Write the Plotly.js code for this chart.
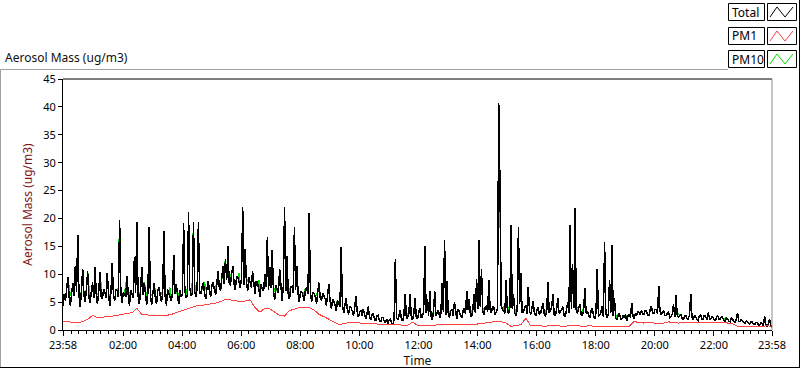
<!DOCTYPE html>
<html>
<head>
<meta charset="utf-8">
<script src="https://cdn.plot.ly/plotly-3.0.1.min.js"></script>
<style>
  html, body { margin: 0; padding: 0; background: #ffffff; }
  #chart { width: 800px; height: 369px; }
  #chart .scatterlayer path.js-line { shape-rendering: crispEdges; }
</style>
</head>
<body>
<div id="chart"></div>
<script>
// ---- Data ----
// Sample grid: first sample at 23:58 of the previous day (hours, -2/60)
const sampleStartHour = -2 / 60;
const totalStepMin = 2.5;  // Total and PM10 sampled every 2.5 minutes
const pm1StepMin = 10;     // PM1 sampled every 10 minutes

const totalMass = [
  4.3,6.4, 5.2,7.1, 9.5,5.8, 4.4,6.6, 8.5,6.1, 11.5,6.8, 17.1,6.2, 4.2,7.0, 11.0,6.3, 5.0,7.2, 10.5,6.0, 4.8,6.9,
  8.5,5.8, 11.2,6.6, 4.6,6.8, 10.4,6.0, 5.5,7.4, 6.8,5.7, 10.3,6.4, 4.4,7.0, 12.0,6.2, 5.2,7.3, 7.0,5.9, 19.8,6.8,
  4.8,6.7, 6.5,6.0, 9.7,6.4, 4.3,7.2, 6.2,5.8, 13.0,6.6, 19.3,6.1, 4.6,6.9, 11.2,6.3, 8.5,5.7, 4.5,6.8, 18.4,6.2,
  4.5,6.6, 8.5,5.9, 4.6,7.0, 7.6,6.2, 5.0,6.8, 17.8,6.0, 4.4,7.3, 6.3,5.8, 5.2,6.9, 13.5,6.4, 8.3,6.1, 4.6,7.2,
  6.0,6.3, 19.1,7.0, 5.8,6.2, 21.2,7.4, 6.2,6.4, 19.4,6.8, 6.0,7.6, 19.3,6.5, 6.5,7.7, 8.5,6.6, 5.6,7.5, 8.8,6.9,
  6.0,8.0, 8.5,7.2, 6.3,8.3, 10.6,7.6, 7.0,9.4, 11.5,8.2, 12.8,9.0, 15.0,8.4, 8.0,10.0, 11.5,8.3, 7.2,9.6, 9.4,8.6,
  7.5,9.2, 22.1,8.0, 14.6,8.6, 7.0,9.4, 8.2,7.6, 10.6,8.4, 6.4,8.8, 8.5,7.4, 6.0,8.2, 7.2,7.0, 10.0,7.8, 16.6,7.2,
  11.3,7.6, 14.4,6.8, 5.4,8.0, 7.0,6.6, 11.0,7.4, 5.2,7.8, 22.1,7.0, 13.3,6.4, 5.5,7.7, 7.8,6.7, 18.4,7.2, 11.5,6.5,
  5.0,7.0, 6.8,6.2, 5.2,7.4, 7.5,6.4, 20.9,6.8, 5.0,6.7, 6.5,6.0, 4.6,6.8, 8.5,5.8, 5.2,6.6, 6.0,5.6, 4.4,6.3,
  8.3,5.1, 3.8,5.5, 5.2,4.5, 3.4,5.3, 4.6,4.1, 14.8,4.7, 3.0,4.5, 5.8,3.7, 2.8,4.3, 4.0,3.4, 2.5,4.0, 6.1,3.3,
  2.3,3.2, 3.5,2.5, 3.8,2.8, 2.0,3.0, 4.2,2.4, 1.8,2.7, 3.0,2.0, 1.6,2.5, 2.6,1.8, 1.4,2.2, 2.2,1.6, 1.3,2.0,
  1.2,1.8, 2.0,1.3, 1.0,1.9, 12.8,2.2, 1.8,2.6, 3.5,1.9, 1.6,2.8, 6.5,2.0, 2.2,3.0, 6.5,2.1, 1.8,2.9, 5.8,2.3,
  2.0,3.1, 4.0,2.2, 2.4,3.4, 15.1,3.0, 5.6,2.6, 7.0,2.4, 1.8,3.3, 7.0,2.5, 3.0,3.6, 2.2,2.9, 8.5,3.2, 16.2,2.7,
  8.8,3.0, 2.2,3.5, 3.6,2.6, 5.0,3.2, 2.0,3.7, 3.4,2.4, 2.3,3.4, 4.0,2.8, 7.0,3.6, 5.6,2.6, 2.4,3.8, 6.5,3.0,
  9.2,3.8, 16.2,4.2, 11.0,3.4, 2.8,4.0, 4.4,3.2, 9.0,3.6, 3.0,4.2, 4.0,2.8, 3.2,3.9, 40.7,26.3, 4.4,3.6, 3.4,3.0,
  9.0,3.5, 3.0,4.0, 18.9,3.8, 6.5,3.0, 2.6,3.6, 18.4,4.6, 10.3,3.2, 3.2,4.0, 4.5,2.8, 7.7,3.4, 2.8,3.9, 5.2,3.0,
  2.5,3.6, 4.0,2.8, 3.0,3.9, 4.8,2.9, 2.4,3.5, 8.6,3.0, 3.5,4.1, 6.5,2.8, 2.6,3.7, 5.8,3.0, 3.2,3.9, 4.2,2.7,
  2.4,3.5, 5.0,3.0, 18.9,3.8, 11.9,4.0, 21.8,3.2, 3.0,3.9, 4.6,2.7, 2.6,3.6, 7.6,3.0, 3.4,2.6, 2.2,3.4, 4.0,2.5,
  2.0,3.0, 11.0,2.5, 2.6,3.2, 4.2,2.4, 15.7,3.0, 2.2,2.8, 9.0,3.1, 15.3,2.6, 5.8,2.2, 1.8,2.7, 3.0,2.0, 2.0,2.6,
  2.2,2.8, 1.6,2.5, 2.8,2.2, 4.9,2.6, 2.0,2.9, 2.6,3.3, 3.2,2.7, 3.6,2.9, 2.8,3.5, 3.4,2.7, 2.6,3.6, 4.3,3.0,
  3.0,3.7, 3.6,2.9, 7.9,3.4, 2.8,3.2, 3.4,2.6, 2.6,3.0, 3.2,2.2, 2.4,2.9, 4.6,2.3, 6.3,2.7, 2.2,2.6, 2.8,2.1,
  1.8,2.5, 2.6,2.0, 2.0,2.7, 6.5,2.2, 1.8,2.6, 2.4,1.9, 1.7,2.5, 2.8,2.0, 2.0,2.6, 2.5,1.8, 3.1,2.4, 1.8,2.3,
  2.3,1.8, 1.7,2.3, 2.5,1.9, 1.9,2.4, 2.2,1.7, 1.6,2.2, 2.0,1.6, 1.5,2.1, 1.8,1.5, 1.4,1.9, 3.1,1.6, 1.5,1.9,
  1.7,1.3, 1.2,1.6, 1.5,1.2, 1.1,1.5, 1.4,1.0, 1.0,1.4, 1.3,0.9, 0.9,1.3, 1.2,0.8, 2.5,1.0, 0.7,1.1, 2.0,0.8, 0.6
];

const pm10Mass = [
  4.3,6.4, 5.2,7.1, 9.5,7.4, 6.2,6.6, 8.5,6.1, 11.5,6.8, 17.1,6.2, 5.8,7.0, 11.0,6.3, 6.6,7.2, 10.5,7.6, 4.8,6.9,
  8.5,5.8, 11.2,6.6, 6.4,6.8, 10.4,7.8, 5.5,7.4, 6.8,5.7, 10.3,6.4, 6.0,7.0, 12.0,6.2, 5.2,7.3, 7.0,7.6, 19.8,6.8,
  4.8,6.7, 6.5,7.8, 9.7,6.4, 6.0,7.2, 6.2,5.8, 13.0,6.6, 19.3,6.1, 6.4,6.9, 11.2,6.3, 8.5,7.5, 4.5,6.8, 18.4,6.2,
  6.2,6.6, 8.5,5.9, 4.6,7.0, 7.6,6.2, 6.6,6.8, 17.8,6.0, 4.4,7.3, 6.3,7.6, 5.2,6.9, 13.5,6.4, 8.3,6.1, 6.2,7.2,
  6.0,6.3, 19.1,7.0, 7.4,6.2, 21.2,7.4, 6.2,8.2, 19.4,6.8, 7.8,7.6, 19.3,6.5, 6.5,7.7, 8.5,8.4, 7.2,7.5, 8.8,6.9,
  6.0,8.0, 8.5,7.2, 8.0,8.3, 10.6,7.6, 7.0,9.4, 11.5,9.8, 12.8,9.0, 15.0,8.4, 9.8,10.0, 11.5,8.3, 7.2,9.6, 9.4,10.2,
  7.5,9.2, 22.1,8.0, 14.6,8.6, 8.8,9.4, 8.2,7.6, 10.6,8.4, 8.0,8.8, 8.5,9.0, 6.0,8.2, 7.2,7.0, 10.0,7.8, 16.6,7.2,
  11.3,7.6, 14.4,6.8, 7.0,8.0, 7.0,6.6, 11.0,7.4, 5.2,7.8, 22.1,7.0, 13.3,6.4, 7.2,7.7, 7.8,6.7, 18.4,7.2, 11.5,6.5,
  5.0,7.0, 6.8,6.2, 6.8,7.4, 7.5,6.4, 20.9,6.8, 5.0,6.7, 6.5,6.0, 6.2,6.8, 8.5,5.8, 5.2,6.6, 6.0,5.6, 4.4,6.3,
  8.3,5.1, 3.8,5.5, 5.2,4.5, 4.6,5.3, 4.6,4.1, 14.8,4.7, 3.0,4.5, 5.8,3.7, 2.8,4.3, 4.0,3.4, 2.5,4.0, 6.1,3.3,
  2.3,3.2, 3.5,2.5, 3.8,2.8, 2.0,3.0, 4.2,2.4, 1.8,2.7, 3.0,2.0, 1.6,2.5, 2.6,1.8, 1.4,2.2, 2.2,1.6, 1.3,2.0,
  1.2,1.8, 2.0,1.3, 1.0,1.9, 12.8,2.2, 1.8,2.6, 3.5,1.9, 1.6,2.8, 6.5,2.0, 2.8,3.0, 6.5,2.1, 1.8,2.9, 5.8,2.3,
  2.0,3.1, 4.0,2.2, 2.4,3.4, 15.1,3.0, 5.6,2.6, 7.0,2.4, 2.8,3.3, 7.0,2.5, 3.0,3.6, 2.2,2.9, 8.5,3.2, 16.2,2.7,
  8.8,3.0, 3.2,3.5, 3.6,2.6, 5.0,3.2, 2.0,3.7, 3.4,2.4, 2.3,3.4, 4.0,2.8, 7.0,3.6, 5.6,2.6, 3.4,3.8, 6.5,3.0,
  9.2,3.8, 16.2,4.2, 11.0,3.4, 3.8,4.0, 4.4,3.2, 9.0,3.6, 3.0,4.2, 4.0,2.8, 3.2,3.9, 40.7,26.3, 4.4,3.6, 4.2,3.0,
  9.0,3.5, 3.9,4.0, 18.9,3.8, 6.5,3.0, 3.6,3.6, 18.4,4.6, 10.3,3.2, 3.2,4.0, 4.5,2.8, 7.7,3.4, 2.8,3.9, 5.2,3.0,
  2.5,3.6, 4.0,2.8, 3.0,3.9, 4.8,2.9, 3.4,3.5, 8.6,3.0, 3.5,4.1, 6.5,2.8, 2.6,3.7, 5.8,3.0, 3.2,3.9, 4.2,2.7,
  2.4,3.5, 5.0,3.0, 18.9,3.8, 11.9,4.0, 21.8,3.2, 4.0,3.9, 4.6,2.7, 3.6,3.6, 7.6,3.0, 3.4,2.6, 2.2,3.4, 4.0,2.5,
  2.0,3.0, 11.0,2.5, 2.6,3.2, 4.2,2.4, 15.7,3.0, 2.2,2.8, 9.0,3.1, 15.3,2.6, 5.8,2.2, 2.6,2.7, 3.0,2.0, 2.0,2.6,
  2.2,2.8, 2.3,2.5, 2.8,2.2, 4.9,2.6, 2.0,2.9, 2.6,3.3, 3.2,2.7, 3.6,2.9, 2.8,3.5, 3.4,2.7, 2.6,3.6, 4.3,3.0,
  3.0,3.7, 3.6,2.9, 7.9,3.4, 2.8,3.2, 3.4,2.6, 2.6,3.0, 3.2,2.2, 2.4,2.9, 4.6,2.3, 6.3,2.7, 2.9,2.6, 2.8,2.1,
  1.8,2.5, 2.6,2.0, 2.0,2.7, 6.5,2.2, 1.8,2.6, 2.4,1.9, 1.7,2.5, 2.8,2.0, 2.0,2.6, 2.5,1.8, 3.1,2.4, 1.8,2.3,
  2.3,1.8, 1.7,2.3, 2.5,1.9, 1.9,2.4, 2.2,1.7, 2.1,2.2, 2.0,1.6, 1.5,2.1, 1.8,1.5, 1.4,1.9, 3.1,1.6, 1.5,1.9,
  1.7,1.3, 1.2,1.6, 1.5,1.2, 1.1,1.5, 1.4,1.0, 1.0,1.4, 1.3,0.9, 0.9,1.3, 1.2,0.8, 2.5,1.0, 0.7,1.1, 2.0,0.8, 0.6
];

const pm1Mass = [
  1.5, 1.5, 1.3, 1.3, 1.5, 1.9, 2.6, 2.2, 2.3, 2.4, 2.4, 2.6,
  2.8, 3.0, 3.1, 3.9, 2.8, 2.7, 2.6, 2.6, 2.6, 2.6, 2.8, 3.1,
  3.4, 3.8, 4.1, 4.3, 4.4, 4.5, 4.6, 4.8, 5.1, 5.5, 5.4, 5.2,
  5.1, 5.2, 5.4, 4.0, 3.2, 3.9, 3.8, 3.2, 2.6, 2.5, 3.5, 3.7,
  4.0, 4.1, 4.0, 3.6, 2.8, 2.4, 1.9, 1.4, 1.0, 1.1, 1.3, 1.3,
  1.3, 1.3, 1.2, 1.1, 1.05, 1.0, 1.0, 0.9, 0.85, 0.85, 0.85, 1.4,
  0.85, 0.8, 0.8, 0.85, 0.9, 0.95, 0.95, 0.9, 0.95, 1.0, 1.0, 0.95,
  1.05, 1.15, 1.25, 1.45, 1.55, 1.45, 1.25, 0.65, 0.75, 0.95, 2.1, 0.75,
  0.75, 0.7, 0.7, 0.75, 0.7, 0.75, 0.7, 0.75, 0.7, 0.75, 0.7, 0.75,
  0.65, 0.6, 0.65, 0.65, 0.7, 0.65, 0.65, 0.7, 1.55, 1.3, 1.25, 1.35,
  1.25, 1.3, 1.25, 1.45, 1.35, 1.25, 1.35, 1.25, 1.4, 1.25, 1.35, 1.3,
  1.35, 1.3, 1.35, 1.25, 1.15, 0.65, 0.6, 0.6, 0.55, 0.6, 0.55, 0.85,
  0.45
];

const tickHours = [-2 / 60, 2, 4, 6, 8, 10, 12, 14, 16, 18, 20, 22, 24 - 2 / 60];
const tickLabels = ['23:58', '02:00', '04:00', '06:00', '08:00', '10:00', '12:00',
                    '14:00', '16:00', '18:00', '20:00', '22:00', '23:58'];
const legendNames = ['Total', 'PM1', 'PM10'];
const seriesColors = ['#000000', '#ff4040', '#00e000'];

// ---- Build ----
const totalHours = totalMass.map((_, i) => sampleStartHour + i * totalStepMin / 60);
const pm1Hours = pm1Mass.map((_, i) => sampleStartHour + i * pm1StepMin / 60);

const W = 800, H = 369;
const L = 63, R = 772, T = 79, B = 330;
const px = x => (x - L) / (R - L);
const py = y => (B - y) / (B - T);

const FONT = '"Noto Sans", "Open Sans", sans-serif';

const traces = [
  { x: totalHours, y: pm10Mass, name: 'PM10', type: 'scatter', mode: 'lines',
    line: { color: seriesColors[2], width: 1.5 }, hoverinfo: 'skip' },
  { x: totalHours, y: totalMass, name: 'Total', type: 'scatter', mode: 'lines',
    line: { color: seriesColors[0], width: 1.5 }, hoverinfo: 'skip' },
  { x: pm1Hours, y: pm1Mass, name: 'PM1', type: 'scatter', mode: 'lines',
    line: { color: seriesColors[1], width: 1 }, hoverinfo: 'skip' }
];

const shapes = [];
const annotations = [];

// outer frame
shapes.push({ type: 'line', xref: 'paper', yref: 'paper', x0: px(0.5), x1: px(728), y0: py(69.5), y1: py(69.5), line: { color: '#a0a0a0', width: 1 } });
shapes.push({ type: 'line', xref: 'paper', yref: 'paper', x0: px(0.5), x1: px(0.5), y0: py(69.5), y1: py(368), line: { color: '#a0a0a0', width: 1 } });
shapes.push({ type: 'line', xref: 'paper', yref: 'paper', x0: px(0), x1: px(800), y0: py(367.5), y1: py(367.5), line: { color: '#000000', width: 1 } });
shapes.push({ type: 'line', xref: 'paper', yref: 'paper', x0: px(799.5), x1: px(799.5), y0: py(0), y1: py(368), line: { color: '#000000', width: 1 } });
// plot area top / right edges
shapes.push({ type: 'line', xref: 'paper', yref: 'paper', x0: 0, x1: 1, y0: 1, y1: 1, line: { color: '#000000', width: 1 } });
shapes.push({ type: 'line', xref: 'paper', yref: 'paper', x0: 1, x1: 1, y0: 0, y1: 1, line: { color: '#8c8c8c', width: 1 } });

// legend
const rowTop = [3, 27, 50];
const rowH = 17;
legendNames.forEach((name, k) => {
  const t = rowTop[k] + 0.5, b = rowTop[k] + rowH + 0.5;
  shapes.push({ type: 'rect', xref: 'paper', yref: 'paper', x0: px(728.5), x1: px(764.5), y0: py(b), y1: py(t),
    line: { color: '#000000', width: 1 }, fillcolor: '#ffffff' });
  shapes.push({ type: 'rect', xref: 'paper', yref: 'paper', x0: px(767.5), x1: px(796.5), y0: py(b), y1: py(t),
    line: { color: '#000000', width: 1 }, fillcolor: '#ffffff' });
  const x1 = 770, x2 = 777, x3 = 785, x4 = 793;
  const yl = b - 3.5, yh = t + 3.5;
  const pth = `M ${px(x1)} ${py(yl)} L ${px(x2)} ${py(yh)} L ${px(x3)} ${py(yl)} L ${px(x4)} ${py(yh)}`;
  shapes.push({ type: 'path', xref: 'paper', yref: 'paper', path: pth, line: { color: seriesColors[k], width: 1 } });
  annotations.push({ xref: 'paper', yref: 'paper', x: px(730), y: py((t + b) / 2), xanchor: 'left', yanchor: 'middle',
    text: name, showarrow: false, font: { family: FONT, size: 12, color: '#000000' } });
});

const layout = {
  width: W, height: H,
  margin: { l: L, r: W - R, t: T, b: H - B, pad: 0 },
  paper_bgcolor: '#ffffff', plot_bgcolor: '#ffffff',
  showlegend: false,
  title: { text: 'Aerosol Mass (ug/m3)', xref: 'container', yref: 'container', x: 5 / W, xanchor: 'left',
           y: 1 - 58 / H, yanchor: 'middle', font: { family: FONT, size: 12, color: '#101010' } },
  font: { family: FONT, size: 11, color: '#000000' },
  xaxis: {
    range: [-2 / 60, 24 - 2 / 60], tickmode: 'array', tickvals: tickHours, ticktext: tickLabels,
    ticks: 'outside', ticklen: 5, tickcolor: '#000000', tickwidth: 1,
    showline: true, linecolor: '#000000', linewidth: 1, showgrid: false, zeroline: false,
    tickfont: { family: FONT, size: 11, color: '#000000' },
    minor: { tickmode: 'linear', tick0: 0, dtick: 0.25, ticks: 'outside', ticklen: 3, tickcolor: '#000000', showgrid: false },
    title: { text: 'Time', standoff: 2, font: { family: FONT, size: 12, color: '#101010' } },
    fixedrange: true
  },
  yaxis: {
    range: [0, 45], dtick: 5, tick0: 0,
    ticks: 'outside', ticklen: 4, tickcolor: '#000000', tickwidth: 1,
    showline: true, linecolor: '#000000', linewidth: 1, showgrid: false, zeroline: false,
    tickfont: { family: FONT, size: 11, color: '#000000' },
    title: { text: 'Aerosol Mass (ug/m3)', standoff: 8, font: { family: FONT, size: 12, color: '#801818' } },
    fixedrange: true
  },
  shapes: shapes,
  annotations: annotations
};

Plotly.newPlot('chart', traces, layout, { staticPlot: true, displayModeBar: false });
</script>
</body>
</html>
